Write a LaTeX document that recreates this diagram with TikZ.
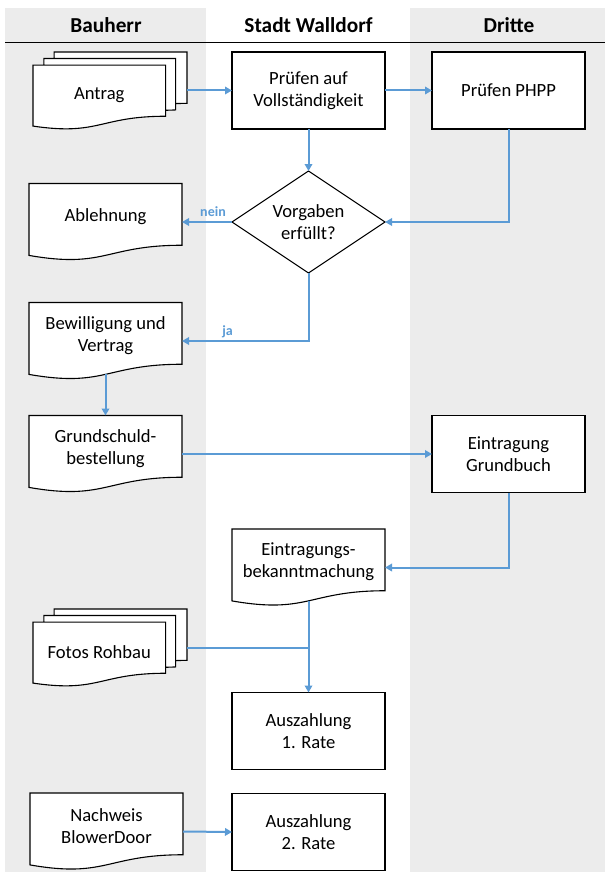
\documentclass[tikz,border=0pt]{standalone}
\usepackage{fontspec}
\setmainfont{Carlito}
\usepackage{tikz}
\usetikzlibrary{positioning}
\usetikzlibrary{shapes.geometric}
\usetikzlibrary{arrows.meta}

\definecolor{lanegray}{RGB}{236,236,236}
\definecolor{flowblue}{RGB}{91,155,213}

% flowchart document shapes (points as fractions of width/height, from top left)
\newdimen\shpx \newdimen\shpy \newdimen\shpw \newdimen\shph
\makeatletter
\def\shpsize{%
  \southwest \shpx=\pgf@x \shph=\pgf@y
  \northeast \shpw=\pgf@x \shpy=\pgf@y
  \advance\shpw by -\shpx
  \advance\shph by -\shpy \shph=-\shph}
\def\shpt#1#2{\pgfpoint{\shpx+#1*\shpw}{\shpy-#2*\shph}}
\pgfdeclareshape{document}{%
  \inheritsavedanchors[from=rectangle]
  \inheritanchorborder[from=rectangle]
  \inheritanchor[from=rectangle]{center}
  \inheritanchor[from=rectangle]{north}
  \inheritanchor[from=rectangle]{south}
  \inheritanchor[from=rectangle]{east}
  \inheritanchor[from=rectangle]{west}
  \anchor{text}{\shpsize \pgf@x=0pt \pgf@y=.075\shph}
  \backgroundpath{%
    \shpsize
    \pgfpathmoveto{\shpt{0}{0}}
    \pgfpathlineto{\shpt{1}{0}}
    \pgfpathlineto{\shpt{1}{.8019}}
    \pgfpathcurveto{\shpt{.5}{.8019}}{\shpt{.5}{1.1075}}{\shpt{0}{.9339}}
    \pgfpathclose}}
\pgfdeclareshape{multidocument}{%
  \inheritsavedanchors[from=rectangle]
  \inheritanchorborder[from=rectangle]
  \inheritanchor[from=rectangle]{center}
  \inheritanchor[from=rectangle]{north}
  \inheritanchor[from=rectangle]{south}
  \inheritanchor[from=rectangle]{east}
  \inheritanchor[from=rectangle]{west}
  \anchor{text}{\shpsize \pgf@x=-.07\shpw \pgf@y=-.065\shph}
  \backgroundpath{%
    \shpsize
    % back sheet
    \pgfpathmoveto{\shpt{.1376}{0}}
    \pgfpathlineto{\shpt{1}{0}}
    \pgfpathlineto{\shpt{1}{.6663}}
    \pgfpathlineto{\shpt{.9259}{.6698}}
    \pgfpathlineto{\shpt{.9259}{.084}}
    \pgfpathlineto{\shpt{.1376}{.084}}
    \pgfpathclose
    % middle sheet
    \pgfpathmoveto{\shpt{.0709}{.084}}
    \pgfpathlineto{\shpt{.9259}{.084}}
    \pgfpathlineto{\shpt{.9259}{.7524}}
    \pgfpathlineto{\shpt{.8609}{.757}}
    \pgfpathlineto{\shpt{.8609}{.1701}}
    \pgfpathlineto{\shpt{.0709}{.1701}}
    \pgfpathclose
    % front sheet
    \pgfpathmoveto{\shpt{0}{.1701}}
    \pgfpathlineto{\shpt{.8609}{.1701}}
    \pgfpathlineto{\shpt{.8609}{.8344}}
    \pgfpathcurveto{\shpt{.4305}{.8344}}{\shpt{.4305}{1.0899}}{\shpt{0}{.9621}}
    \pgfpathclose}}
\makeatother

\begin{document}
\begin{tikzpicture}[x=1pt, y=-1pt,
    every node/.style={font=\fontsize{18.6pt}{22pt}\selectfont, align=center},
    box/.style={draw, fill=white, line width=1.1pt, minimum width=153pt,
      minimum height=77pt, inner sep=0pt, outer sep=0pt},
    doc/.style={box, shape=document},
    stack/.style={box, shape=multidocument, minimum width=154pt},
    check/.style={box, shape=diamond, shape aspect=1.5, minimum height=102pt},
    hdr/.style={font=\bfseries\fontsize{21.3pt}{26pt}\selectfont},
    flow/.style={draw=flowblue, line width=2pt, -{Triangle[length=7pt,width=7.5pt]}},
    lbl/.style={font=\bfseries\fontsize{14pt}{16pt}\selectfont, text=flowblue,
      inner sep=1pt, text depth=0pt}]
  \useasboundingbox (0,0) rectangle (605,872);

  % lanes
  \fill[lanegray] (5,8) rectangle (206,872);
  \fill[lanegray] (410,8) rectangle (605,872);
  \draw[line width=1pt] (5,43) -- (605,43);
  \node[hdr] (hbauherr) at (106,25) {Bauherr};
  \node[hdr] (hstadt) at (308.5,25) {Stadt Walldorf};
  \node[hdr] (hdritte) at (509,25) {Dritte};

  \node[box] (pruefen) at (308.5,90.5) {Prüfen auf\\Vollständigkeit};
  \node[stack, left=45pt of pruefen] (antrag) {Antrag};
  \node[box, right=47pt of pruefen] (phpp) {Prüfen PHPP};
  \node[check, below=42pt of pruefen] (vorgaben) {Vorgaben\\erfüllt?};
  \node[doc, left=50pt of vorgaben] (ablehnung) {Ablehnung};
  \node[doc, below=42pt of ablehnung] (bewilligung) {Bewilligung und\\Vertrag};
  \node[doc, below=36pt of bewilligung] (grundschuld) {Grundschuld-\\bestellung};
  \node[box] (grundbuch) at (phpp |- grundschuld) {Eintragung\\Grundbuch};
  \node[doc] (bekannt) at (308.5,567.5) {Eintragungs-\\bekanntmachung};
  \node[stack] (fotos) at (110,647.5) {Fotos Rohbau};
  \node[box] (rate1) at (308.5,731) {Auszahlung\\1. Rate};
  \node[doc] (nachweis) at (106.5,831.5) {Nachweis\\BlowerDoor};
  \node[box] (rate2) at (308.5,832) {Auszahlung\\2. Rate};
  \coordinate (fotosjoin) at (rate1.north |- fotos.east);

  \draw[flow] (antrag.east) -- (pruefen.west);
  \draw[flow] (pruefen.east) -- (phpp.west);
  \draw[flow] (pruefen.south) -- (vorgaben.north);
  \draw[flow] (phpp.south) |- (vorgaben.east);
  \draw[flow] (vorgaben.west) -- node[lbl, above=4pt, pos=0.38] {nein} (ablehnung.east);
  \draw[flow] (vorgaben.south) |- node[lbl, above=4pt, pos=0.82] {ja} (bewilligung.east);
  \draw[flow] ([yshift=5.1pt]bewilligung.south) -- (grundschuld.north);
  \draw[flow] (grundschuld.east) -- (grundbuch.west);
  \draw[flow] (grundbuch.south) |- (bekannt.east);
  \draw[flow] ([yshift=5.1pt]bekannt.south) -- (rate1.north);
  \draw[flow, -] (fotos.east) -- (fotosjoin);
  \draw[flow] (nachweis.east) -- (rate2.west);
\end{tikzpicture}
\end{document}
